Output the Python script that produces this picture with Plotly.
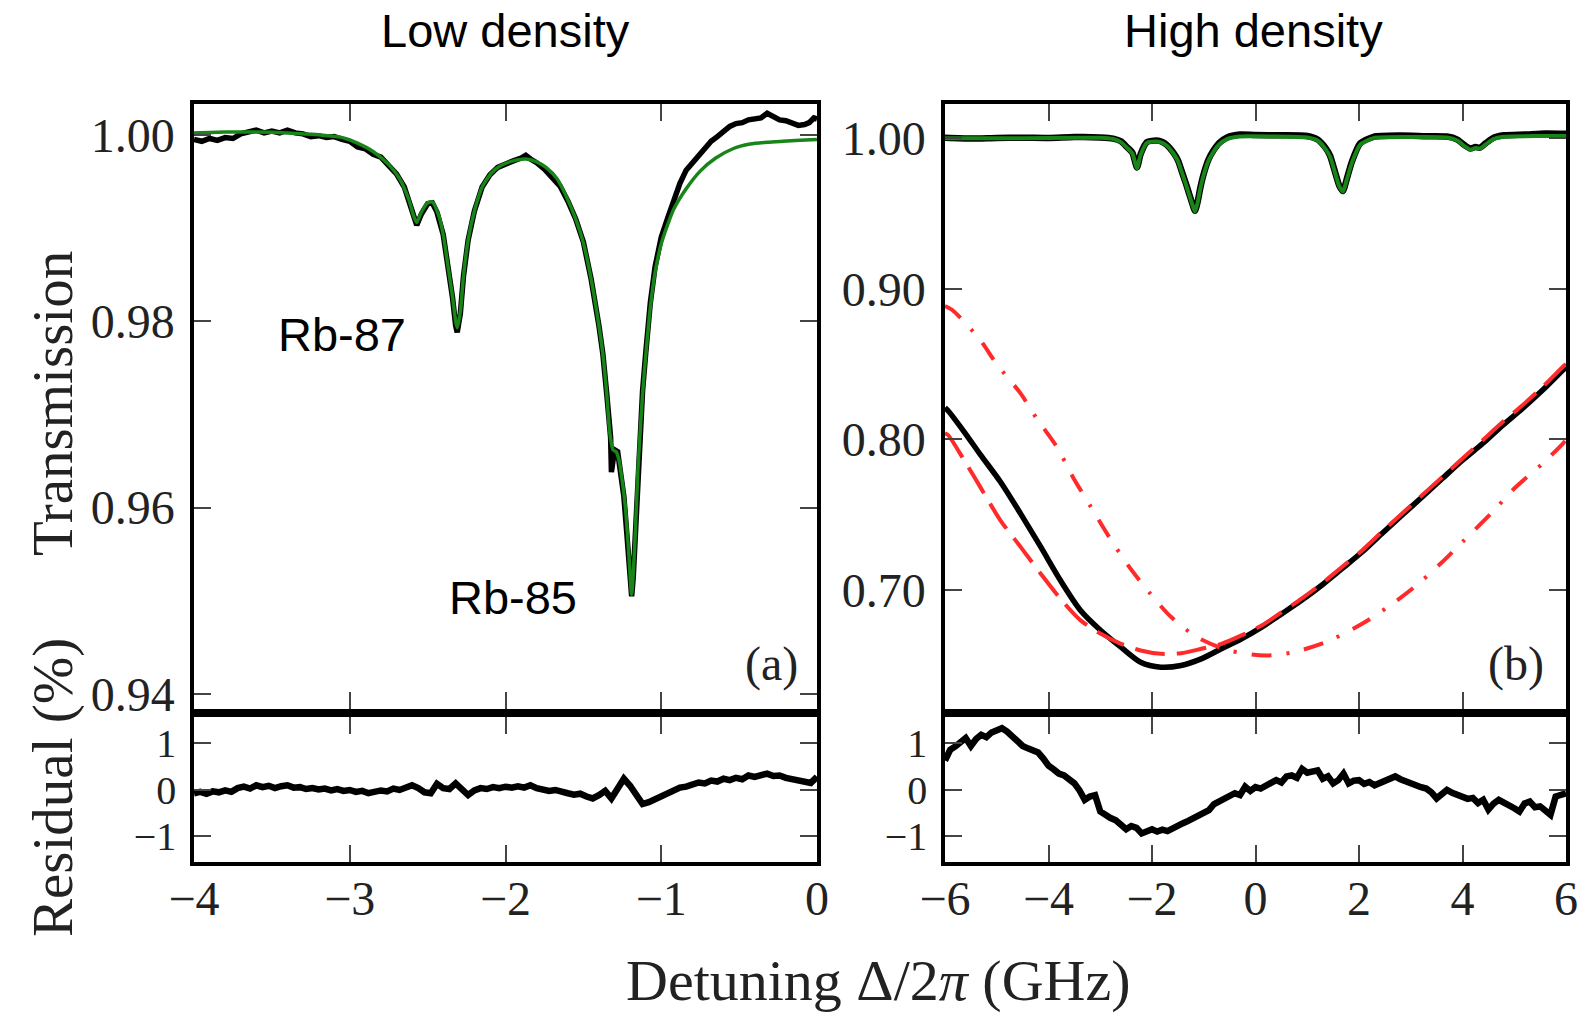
import plotly.graph_objects as go

# ---------------- Panel (a): low density ----------------
a_data_x = [-4.00, -3.95, -3.90, -3.85, -3.80, -3.75, -3.70, -3.65, -3.60, -3.55, -3.50, -3.45, -3.40, -3.35,
            -3.30, -3.25, -3.20, -3.15, -3.10, -3.05, -3.00, -2.95, -2.90, -2.85, -2.80, -2.75, -2.70, -2.65,
            -2.62, -2.59, -2.57, -2.54, -2.50, -2.47, -2.44, -2.40, -2.37, -2.34, -2.32, -2.31, -2.29, -2.27,
            -2.24, -2.20, -2.15, -2.10, -2.05, -2.00, -1.95, -1.90, -1.87, -1.84, -1.80, -1.75, -1.70, -1.65,
            -1.60, -1.55, -1.50, -1.45, -1.40, -1.375, -1.35, -1.325, -1.32, -1.31, -1.30, -1.28, -1.26, -1.24,
            -1.22, -1.20, -1.19, -1.18, -1.16, -1.14, -1.12, -1.10, -1.07, -1.04, -1.00, -0.96, -0.92, -0.88,
            -0.84, -0.80, -0.76, -0.72, -0.68, -0.64, -0.60, -0.56, -0.52, -0.48, -0.44, -0.40, -0.36, -0.32,
            -0.28, -0.24, -0.20, -0.16, -0.12, -0.08, -0.05, -0.02, 0.00]
a_data_t = [0.9995, 0.9993, 0.9996, 0.9994, 0.9997, 0.9996, 1.0001, 1.0003, 1.0005, 1.0002, 1.0004, 1.0002, 1.0005, 1.0002,
            1.0001, 0.9998, 0.9999, 0.9997, 0.9998, 0.9995, 0.9993, 0.9987, 0.9985, 0.9979, 0.9976, 0.9967, 0.9958, 0.9944,
            0.9928, 0.9910, 0.9903, 0.9915, 0.9926, 0.9927, 0.9917, 0.9893, 0.9860, 0.9825, 0.9795, 0.9788, 0.9808, 0.9848,
            0.9887, 0.9918, 0.9944, 0.9957, 0.9965, 0.9969, 0.9972, 0.9975, 0.9978, 0.9974, 0.9970, 0.9963, 0.9955, 0.9945,
            0.9929, 0.9910, 0.9885, 0.9845, 0.9795, 0.9765, 0.9722, 0.9675, 0.9638, 0.9650, 0.9662, 0.9660, 0.9640, 0.9612,
            0.9570, 0.9520, 0.9505, 0.9525, 0.9600, 0.9670, 0.9725, 0.9765, 0.9820, 0.9858, 0.9890, 0.9910, 0.9930, 0.9948,
            0.9962, 0.9970, 0.9978, 0.9985, 0.9993, 0.9998, 1.0004, 1.0009, 1.0012, 1.0013, 1.0016, 1.0017, 1.0018, 1.0023,
            1.0019, 1.0016, 1.0015, 1.0012, 1.0010, 1.0011, 1.0013, 1.0018, 1.0017]

a_fit_x = [-4.00, -3.80, -3.60, -3.40, -3.20, -3.06, -2.95, -2.85, -2.75, -2.68, -2.62, -2.59, -2.57, -2.54,
           -2.50, -2.47, -2.43, -2.40, -2.37, -2.34, -2.32, -2.31, -2.29, -2.27, -2.24, -2.20, -2.15, -2.09,
           -2.03, -1.95, -1.87, -1.80, -1.74, -1.67, -1.61, -1.55, -1.50, -1.45, -1.40, -1.375, -1.35, -1.33,
           -1.31, -1.29, -1.27, -1.25, -1.23, -1.21, -1.19, -1.17, -1.15, -1.12, -1.10, -1.07, -1.04, -1.00,
           -0.96, -0.92, -0.84, -0.75, -0.65, -0.54, -0.43, -0.32, -0.22, -0.11, 0.00]
a_fit_t = [1.0002, 1.0003, 1.0003, 1.0002, 1.0000, 0.99975, 0.9991, 0.9982, 0.9968, 0.9953, 0.9930, 0.9913, 0.9906, 0.9917,
           0.9927, 0.9928, 0.9914, 0.9893, 0.9860, 0.9826, 0.9800, 0.9793, 0.9810, 0.9848, 0.9887, 0.9918, 0.9944, 0.9959,
           0.9967, 0.9972, 0.9974, 0.9971, 0.9965, 0.9953, 0.9934, 0.9910, 0.9884, 0.9845, 0.9795, 0.9765, 0.9722, 0.9680,
           0.9662, 0.9660, 0.9650, 0.9628, 0.9600, 0.9555, 0.9507, 0.9560, 0.9640, 0.9722, 0.9762, 0.9815, 0.9852, 0.9883,
           0.9903, 0.9920, 0.9942, 0.9961, 0.9975, 0.9985, 0.9990, 0.9992, 0.9993, 0.9994, 0.9995]

a_res_x = [-4.00, -3.96, -3.92, -3.88, -3.84, -3.80, -3.76, -3.72, -3.68, -3.64, -3.60, -3.56, -3.52, -3.48,
           -3.44, -3.40, -3.36, -3.32, -3.28, -3.24, -3.20, -3.16, -3.12, -3.08, -3.04, -3.00, -2.96, -2.92,
           -2.88, -2.84, -2.80, -2.76, -2.72, -2.68, -2.64, -2.60, -2.56, -2.52, -2.48, -2.44, -2.40, -2.36,
           -2.32, -2.28, -2.24, -2.20, -2.16, -2.12, -2.08, -2.04, -2.00, -1.96, -1.92, -1.88, -1.84, -1.80,
           -1.76, -1.72, -1.68, -1.64, -1.60, -1.56, -1.52, -1.48, -1.44, -1.40, -1.36, -1.32, -1.28, -1.24,
           -1.20, -1.16, -1.12, -1.08, -1.04, -1.00, -0.96, -0.92, -0.88, -0.84, -0.80, -0.76, -0.72, -0.68,
           -0.64, -0.60, -0.56, -0.52, -0.48, -0.44, -0.40, -0.36, -0.32, -0.28, -0.24, -0.20, -0.16, -0.12,
           -0.08, -0.04, 0.00]
a_res_v = [-0.08, -0.05, -0.09, -0.04, -0.06, -0.02, -0.05, 0.03, 0.06, 0.02, 0.09, 0.05, 0.08, 0.03,
           0.07, 0.09, 0.04, 0.05, 0.01, 0.03, 0.00, 0.02, -0.02, 0.01, -0.03, -0.01, -0.05, -0.03,
           -0.08, -0.06, -0.02, -0.04, 0.02, -0.01, 0.04, 0.09, 0.03, -0.06, -0.08, 0.12, 0.03, 0.01,
           0.13, 0.02, -0.12, -0.02, 0.03, 0.01, 0.05, 0.03, 0.06, 0.04, 0.07, 0.04, 0.09, 0.03,
           0.01, -0.03, -0.01, -0.06, -0.08, -0.11, -0.09, -0.15, -0.19, -0.12, -0.03, -0.19, 0.05, 0.23,
           0.08, -0.12, -0.31, -0.27, -0.21, -0.14, -0.08, -0.02, 0.04, 0.06, 0.12, 0.15, 0.13, 0.19,
           0.17, 0.23, 0.20, 0.25, 0.22, 0.30, 0.27, 0.31, 0.34, 0.29, 0.30, 0.25, 0.23, 0.20,
           0.17, 0.14, 0.27]

# ---------------- Panel (b): high density ----------------
b_fit_top_x = [-6.0, -4.5, -3.5, -3.0, -2.75, -2.60, -2.49, -2.38, -2.29, -2.22, -2.10, -1.91, -1.80, -1.71,
               -1.59, -1.50, -1.42, -1.35, -1.29, -1.23, -1.17, -1.12, -1.07, -1.01, -0.91, -0.81, -0.70, -0.55,
               -0.30, 0.30, 1.00, 1.20, 1.35, 1.44, 1.54, 1.62, 1.69, 1.76, 1.86, 2.02, 2.28, 3.00, 3.70,
               3.90, 4.05, 4.15, 4.25, 4.34, 4.45, 4.60, 4.80, 5.50, 6.00]
b_fit_top_t = [1.0000, 1.0000, 1.0003, 1.0003, 0.9995, 0.9975, 0.9940, 0.9900, 0.9802, 0.9890, 0.9970, 0.9979, 0.9970, 0.9950,
               0.9901, 0.9850, 0.9770, 0.9700, 0.9635, 0.9570, 0.9513, 0.9570, 0.9660, 0.9746, 0.9850, 0.9912, 0.9960, 0.9995,
               1.0012, 1.0012, 1.0005, 0.9985, 0.9930, 0.9879, 0.9768, 0.9680, 0.9646, 0.9720, 0.9835, 0.9957, 1.0001, 1.0008, 1.0005,
               0.9985, 0.9945, 0.9925, 0.9935, 0.9932, 0.9960, 0.9995, 1.0010, 1.0015, 1.0015]

b_data_top_x = [-6.0, -5.5, -5.0, -4.5, -4.0, -3.5, -3.0, -2.75, -2.60, -2.49, -2.38, -2.29, -2.22, -2.10, -1.91,
                -1.80, -1.71, -1.59, -1.50, -1.42, -1.35, -1.29, -1.23, -1.17, -1.12, -1.07, -1.01, -0.91, -0.81,
                -0.70, -0.55, -0.30, 0.0, 0.5, 1.00, 1.20, 1.35, 1.44, 1.54, 1.62, 1.69, 1.76, 1.86, 2.02, 2.28,
                2.8, 3.3, 3.70, 3.90, 4.05, 4.15, 4.25, 4.34, 4.45, 4.60, 4.80, 5.2, 5.6, 6.00]
b_data_top_t = [1.0003, 0.9998, 1.0002, 1.0004, 1.0002, 1.0008, 1.0006, 0.9998, 0.9980, 0.9944, 0.9905, 0.9806, 0.9895, 0.9975, 0.9985,
                0.9976, 0.9955, 0.9906, 0.9855, 0.9775, 0.9705, 0.9640, 0.9575, 0.9518, 0.9575, 0.9665, 0.9752, 0.9857, 0.9920,
                0.9970, 1.0006, 1.0025, 1.0022, 1.0020, 1.0015, 0.9992, 0.9938, 0.9885, 0.9773, 0.9685, 0.9650, 0.9725, 0.9842, 0.9965, 1.0010,
                1.0018, 1.0014, 1.0012, 0.9992, 0.9952, 0.9932, 0.9942, 0.9938, 0.9968, 1.0004, 1.0020, 1.0025, 1.0032, 1.0030]

b_data_x = [-6.0, -5.94, -5.63, -5.32, -4.93, -4.54, -4.15, -3.77, -3.38, -2.99, -2.60, -2.22, -1.83, -1.44,
            -1.05, -0.66, -0.27, 0.12, 0.51, 0.89, 1.28, 1.67, 2.06, 2.44, 2.83, 3.22, 3.61, 4.00, 4.39,
            4.78, 5.16, 5.55, 5.94, 6.0]
b_data_t = [0.8210, 0.8190, 0.8050, 0.7900, 0.7718, 0.7506, 0.7285, 0.7063, 0.6863, 0.6730, 0.6619, 0.6519, 0.6486, 0.6497,
            0.6541, 0.6608, 0.6674, 0.6752, 0.6841, 0.6930, 0.7030, 0.7140, 0.7251, 0.7373, 0.7495, 0.7617, 0.7739, 0.7861, 0.7972,
            0.8094, 0.8205, 0.8327, 0.8460, 0.8480]

b_model1_x = [-6.0, -5.94, -5.63, -5.32, -4.93, -4.54, -4.15, -3.77, -3.38, -2.99, -2.60, -2.22, -1.83, -1.44,
              -1.05, -0.66, -0.27, 0.12, 0.51, 0.89, 1.28, 1.67, 2.06, 2.44, 2.83, 3.22, 3.61, 4.00, 4.39,
              4.78, 5.16, 5.55, 5.94, 6.0]
b_model1_t = [0.8040, 0.8028, 0.7861, 0.7684, 0.7462, 0.7285, 0.7107, 0.6941, 0.6797, 0.6708, 0.6641, 0.6597, 0.6575, 0.6579,
              0.6608, 0.6641, 0.6697, 0.6763, 0.6852, 0.6941, 0.7041, 0.7151, 0.7262, 0.7384, 0.7506, 0.7628, 0.7750, 0.7872, 0.7994,
              0.8116, 0.8227, 0.8349, 0.8482, 0.8500]

b_model2_x = [-6.0, -5.86, -5.32, -5.01, -4.54, -4.23, -3.84, -3.53, -3.18, -2.83, -2.44, -2.06, -1.63, -1.13,
              -0.51, 0.19, 0.74, 1.36, 2.06, 2.60, 3.07, 3.61, 4.00, 4.58, 5.00, 5.55, 5.94, 6.0]
b_model2_t = [0.8885, 0.8859, 0.8660, 0.8504, 0.8305, 0.8139, 0.7950, 0.7750, 0.7550, 0.7352, 0.7152, 0.6985, 0.6819, 0.6686,
              0.6597, 0.6564, 0.6586, 0.6652, 0.6774, 0.6896, 0.7018, 0.7185, 0.7318, 0.7517, 0.7673, 0.7839, 0.7972, 0.7995]

b_res_x = [-6.0, -5.9, -5.8, -5.7, -5.6, -5.5, -5.4, -5.3, -5.2, -5.1, -5.0, -4.9, -4.8, -4.7, -4.6, -4.5,
           -4.4, -4.3, -4.2, -4.1, -4.0, -3.9, -3.8, -3.7, -3.6, -3.5, -3.4, -3.3, -3.2, -3.1, -3.0, -2.9,
           -2.8, -2.7, -2.6, -2.5, -2.4, -2.3, -2.2, -2.1, -2.0, -1.9, -1.8, -1.7, -1.6, -1.5, -1.4, -1.3,
           -1.2, -1.1, -1.0, -0.9, -0.8, -0.7, -0.6, -0.5, -0.4, -0.3, -0.2, -0.1, 0.0, 0.1, 0.2, 0.3,
           0.4, 0.5, 0.6, 0.7, 0.8, 0.9, 1.0, 1.1, 1.2, 1.3, 1.4, 1.5, 1.6, 1.7, 1.8, 1.9, 2.0, 2.1,
           2.2, 2.3, 2.4, 2.5, 2.6, 2.7, 2.8, 2.9, 3.0, 3.1, 3.2, 3.3, 3.4, 3.5, 3.6, 3.7, 3.8, 3.9,
           4.0, 4.1, 4.2, 4.3, 4.4, 4.5, 4.6, 4.7, 4.8, 4.9, 5.0, 5.1, 5.2, 5.3, 5.4, 5.5, 5.6, 5.7,
           5.8, 5.9, 6.0]
b_res_v = [0.62, 0.85, 0.92, 1.02, 1.10, 0.93, 1.08, 1.17, 1.12, 1.22, 1.28, 1.31, 1.24, 1.14, 1.02, 0.93,
           0.88, 0.82, 0.79, 0.66, 0.51, 0.43, 0.34, 0.30, 0.20, 0.13, -0.02, -0.22, -0.15, -0.12, -0.47, -0.55,
           -0.61, -0.66, -0.75, -0.85, -0.78, -0.82, -0.94, -0.88, -0.85, -0.90, -0.86, -0.89, -0.82, -0.78, -0.72, -0.67,
           -0.61, -0.57, -0.50, -0.44, -0.31, -0.26, -0.20, -0.14, -0.08, -0.12, 0.06, -0.03, 0.05, 0.02, 0.10, 0.14,
           0.20, 0.15, 0.28, 0.30, 0.25, 0.44, 0.36, 0.37, 0.41, 0.23, 0.28, 0.13, 0.20, 0.34, 0.13, 0.19, 0.20, 0.12,
           0.16, 0.09, 0.14, 0.18, 0.23, 0.28, 0.22, 0.17, 0.13, 0.09, 0.05, 0.02, -0.06, -0.19, -0.08, -0.01, -0.07, -0.12,
           -0.15, -0.20, -0.18, -0.29, -0.22, -0.43, -0.30, -0.22, -0.28, -0.33, -0.40, -0.47, -0.30, -0.26, -0.38, -0.36, -0.45, -0.54,
           -0.15, -0.12, -0.08]

# ---------------- Tick labels ----------------
a_xticks = [-4, -3, -2, -1, 0]
b_xticks = [-6, -4, -2, 0, 2, 4, 6]
a_yticks = [0.94, 0.96, 0.98, 1.00]
b_yticks = [0.70, 0.80, 0.90, 1.00]
res_yticks = [-1, 0, 1]

BLACK = "#000000"
GREEN = "#178517"
RED = "#ff2a2a"
SERIF = "Liberation Serif, Times New Roman, serif"
SANS = "Liberation Sans, Arial, sans-serif"

fig = go.Figure()

# Panel (a)
fig.add_trace(go.Scatter(x=a_data_x, y=a_data_t, mode="lines", line=dict(color=BLACK, width=5.5),
                         xaxis="x", yaxis="y", showlegend=False))
fig.add_trace(go.Scatter(x=a_fit_x, y=a_fit_t, mode="lines", line=dict(color=GREEN, width=3.5, shape="spline", smoothing=0.6),
                         xaxis="x", yaxis="y", showlegend=False))
# Panel (b)
fig.add_trace(go.Scatter(x=b_data_top_x, y=b_data_top_t, mode="lines", line=dict(color=BLACK, width=6.5, shape="spline", smoothing=0.6),
                         xaxis="x2", yaxis="y2", showlegend=False))
fig.add_trace(go.Scatter(x=b_fit_top_x, y=b_fit_top_t, mode="lines", line=dict(color=GREEN, width=4, shape="spline", smoothing=0.6),
                         xaxis="x2", yaxis="y2", showlegend=False))
fig.add_trace(go.Scatter(x=b_data_x, y=b_data_t, mode="lines", line=dict(color=BLACK, width=5.5, shape="spline", smoothing=0.8),
                         xaxis="x2", yaxis="y2", showlegend=False))
fig.add_trace(go.Scatter(x=b_model1_x, y=b_model1_t, mode="lines",
                         line=dict(color=RED, width=4, dash="30px,12px", shape="spline", smoothing=0.8),
                         xaxis="x2", yaxis="y2", showlegend=False))
fig.add_trace(go.Scatter(x=b_model2_x, y=b_model2_t, mode="lines",
                         line=dict(color=RED, width=4, dash="20px,15px,3px,15px", shape="spline", smoothing=0.8),
                         xaxis="x2", yaxis="y2", showlegend=False))
# Residuals
fig.add_trace(go.Scatter(x=a_res_x, y=a_res_v, mode="lines", line=dict(color=BLACK, width=6.5),
                         xaxis="x3", yaxis="y3", showlegend=False))
fig.add_trace(go.Scatter(x=b_res_x, y=b_res_v, mode="lines", line=dict(color=BLACK, width=6.5),
                         xaxis="x4", yaxis="y4", showlegend=False))

W, H = 1585, 1016
xl = [194 / W, 817 / W]
xr = [945 / W, 1566 / W]
yt = [1 - 709 / H, 1 - 104 / H]
yb = [1 - 862 / H, 1 - 717 / H]

tickfont = dict(family=SERIF, size=48, color="#222222")
resfont = dict(family=SERIF, size=40, color="#222222")


def xax(domain, rng, ticks, anchor, labels):
    return dict(domain=domain, range=rng, tickvals=ticks, anchor=anchor, showticklabels=labels,
                ticks="inside", ticklen=17, tickwidth=2, tickcolor="#444444",
                showline=True, linewidth=3.5, linecolor="#000000", mirror="ticks",
                showgrid=False, zeroline=False, tickfont=tickfont, ticklabelstandoff=-8,
                automargin=False)


def yax(domain, rng, ticks, anchor, fmt, font):
    return dict(domain=domain, range=rng, tickvals=ticks, anchor=anchor, tickformat=fmt,
                ticks="inside", ticklen=17, tickwidth=2, tickcolor="#444444",
                showline=True, linewidth=3.5, linecolor="#000000", mirror="ticks",
                showgrid=False, zeroline=False, tickfont=font, ticklabelstandoff=6,
                automargin=False)


annotations = [
    dict(text="Low density", x=505 / W, y=1 - 31 / H, xref="paper", yref="paper", showarrow=False,
         font=dict(family=SANS, size=47, color="#000000"), xanchor="center", yanchor="middle"),
    dict(text="High density", x=1253 / W, y=1 - 31 / H, xref="paper", yref="paper", showarrow=False,
         font=dict(family=SANS, size=47, color="#000000"), xanchor="center", yanchor="middle"),
    dict(text="Rb-87", x=-3.05, y=0.9786, xref="x", yref="y", showarrow=False,
         font=dict(family=SANS, size=47, color="#000000"), xanchor="center", yanchor="middle"),
    dict(text="Rb-85", x=-1.95, y=0.9504, xref="x", yref="y", showarrow=False,
         font=dict(family=SANS, size=47, color="#000000"), xanchor="center", yanchor="middle"),
    dict(text="(a)", x=771 / W, y=1 - 664 / H, xref="paper", yref="paper", showarrow=False,
         font=dict(family=SERIF, size=48, color="#222222"), xanchor="center", yanchor="middle"),
    dict(text="(b)", x=1516 / W, y=1 - 664 / H, xref="paper", yref="paper", showarrow=False,
         font=dict(family=SERIF, size=48, color="#222222"), xanchor="center", yanchor="middle"),
    dict(text="Transmission", x=53 / W, y=1 - 404 / H, xref="paper", yref="paper", showarrow=False,
         textangle=-90, font=dict(family=SERIF, size=57, color="#222222"), xanchor="center", yanchor="middle"),
    dict(text="Residual (%)", x=53 / W, y=1 - 788 / H, xref="paper", yref="paper", showarrow=False,
         textangle=-90, font=dict(family=SERIF, size=57, color="#222222"), xanchor="center", yanchor="middle"),
    dict(text="Detuning Δ/2<i>π</i> (GHz)", x=879 / W, y=1 - 980 / H, xref="paper", yref="paper", showarrow=False,
         font=dict(family=SERIF, size=58, color="#222222"), xanchor="center", yanchor="middle"),
]

fig.update_layout(
    width=W, height=H,
    margin=dict(l=0, r=0, t=0, b=0, autoexpand=False),
    paper_bgcolor="white", plot_bgcolor="white",
    xaxis=xax(xl, [-4, 0], a_xticks, "y", False),
    yaxis=yax(yt, [0.9384, 1.0033], a_yticks, "x", ".2f", tickfont),
    xaxis2=xax(xr, [-6, 6], b_xticks, "y2", False),
    yaxis2=yax(yt, [0.6208, 1.0228], b_yticks, "x2", ".2f", tickfont),
    xaxis3=xax(xl, [-4, 0], a_xticks, "y3", True),
    yaxis3=yax(yb, [-1.55, 1.55], res_yticks, "x3", "d", resfont),
    xaxis4=xax(xr, [-6, 6], b_xticks, "y4", True),
    yaxis4=yax(yb, [-1.55, 1.55], res_yticks, "x4", "d", resfont),
    annotations=annotations,
)

fig.write_html("out.html")
